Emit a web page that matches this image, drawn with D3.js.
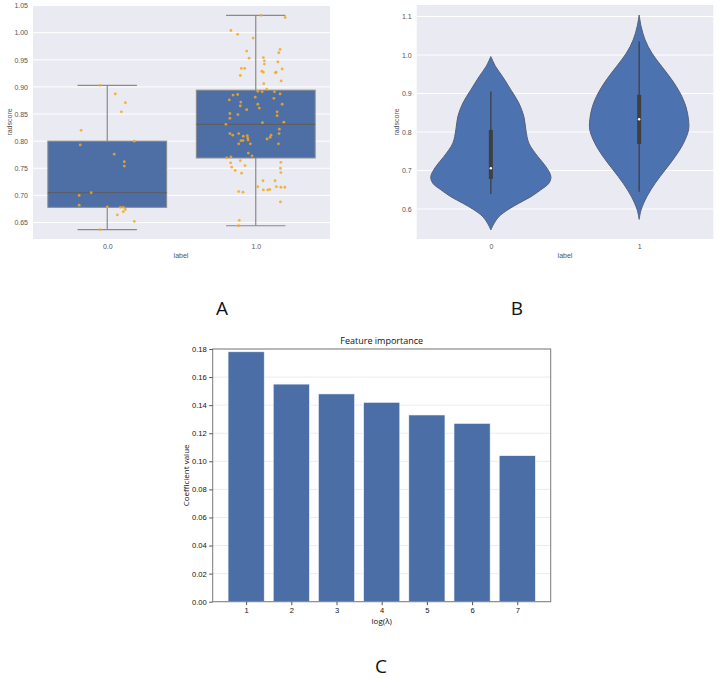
<!DOCTYPE html>
<html><head><meta charset="utf-8">
<script src="https://cdn.jsdelivr.net/npm/d3@7"></script>
<style>body{margin:0;background:#fff}svg{display:block}</style>
</head><body>
<script>
// ---------- Panel A: box + strip ----------
const boxCategories = ["0.0", "1.0"];
const boxStats = [ // [whiskerLow, Q1, median, Q3, whiskerHigh]
  [0.637, 0.678, 0.705, 0.800, 0.903],
  [0.644, 0.769, 0.831, 0.894, 1.032]
];
const strip0Values = [0.903,0.887,0.871,0.854,0.820,0.793,0.800,0.776,0.762,0.754,0.705,0.700,0.682,0.679,0.678,0.678,0.674,0.670,0.664,0.652,0.637];
const strip0Jitter = [-0.047,0.054,0.122,0.095,-0.176,-0.182,0.182,0.047,0.115,0.115,-0.108,-0.189,-0.189,0,0.088,0.108,0.122,0.108,0.068,0.182,-0.047];
const strip1Values = [1.032,1.028,1.004,0.997,0.990,0.966,0.969,0.963,0.954,0.953,0.948,0.946,0.942,0.934,0.934,0.933,0.929,0.927,0.927,0.926,0.921,0.911,0.906,0.896,0.892,0.891,0.891,0.885,0.887,0.886,0.881,0.876,0.879,0.872,0.868,0.868,0.865,0.861,0.858,0.851,0.854,0.849,0.847,0.842,0.831,0.834,0.835,0.822,0.814,0.811,0.814,0.809,0.810,0.806,0.814,0.811,0.807,0.804,0.801,0.801,0.802,0.795,0.795,0.795,0.778,0.773,0.769,0.771,0.760,0.764,0.761,0.755,0.752,0.750,0.746,0.742,0.741,0.727,0.727,0.716,0.716,0.710,0.710,0.711,0.715,0.715,0.707,0.706,0.688,0.654,0.644];
const strip1Jitter = [0.036,0.198,-0.167,-0.122,-0.018,-0.061,0.164,0.155,0.051,-0.045,0.058,0.149,0.058,-0.097,-0.074,0.178,0.041,0.051,0.137,0.132,-0.104,0.171,0.054,0.074,0.014,0.043,0.126,-0.153,0.164,-0.122,-0.003,-0.178,0.122,-0.101,0.014,0.178,-0.104,0.024,-0.061,-0.174,0.144,-0.120,0.144,-0.174,-0.201,0.045,0.189,0.159,-0.174,-0.155,-0.115,-0.084,-0.057,-0.054,0.157,0.103,0.097,0.076,-0.099,-0.086,-0.052,-0.115,-0.036,0.153,-0.050,-0.025,-0.196,-0.167,-0.169,-0.104,0.169,-0.072,-0.162,0.166,-0.138,0.169,-0.095,0.049,0.130,0.014,0.139,0.051,0.081,0.095,0.169,0.196,-0.115,-0.086,0.166,-0.111,-0.115];
const boxYTicks = [0.65,0.70,0.75,0.80,0.85,0.90,0.95,1.00,1.05];

// ---------- Panel B: violin ----------
const violinCategories = ["0", "1"];
const violin0Values = [0.996,0.970,0.944,0.9095,0.875,0.840,0.8055,0.771,0.736,0.710,0.684,0.667,0.650,0.632,0.615,0.598,0.580,0.563,0.5455];
const violin0Density = [0.0,0.08,0.195,0.333,0.467,0.55,0.583,0.633,0.783,0.917,1.0,0.967,0.833,0.667,0.467,0.283,0.133,0.055,0.0];
const violin1Values = [1.104,1.074,1.039,1.005,0.970,0.9355,0.901,0.866,0.8315,0.8055,0.771,0.736,0.7015,0.667,0.632,0.598,0.573];
const violin1Density = [0.0,0.033,0.1,0.212,0.378,0.545,0.683,0.778,0.822,0.822,0.738,0.6,0.433,0.267,0.128,0.033,0.0];
const violinStats = [ // [whiskerLow, Q1, median, Q3, whiskerHigh]
  [0.639, 0.678, 0.706, 0.8055, 0.905],
  [0.645, 0.769, 0.833, 0.8965, 1.035]
];
const violinYTicks = [0.6,0.7,0.8,0.9,1.0,1.1];

// ---------- Panel C: bars ----------
const barCategories = [1,2,3,4,5,6,7];
const barValues = [0.178,0.155,0.148,0.142,0.133,0.127,0.104];
const barYTicks = [0.00,0.02,0.04,0.06,0.08,0.10,0.12,0.14,0.16,0.18];

const W = 719, H = 679;
const svg = d3.select("body").append("svg").attr("width", W).attr("height", H);
const sansA = "'Liberation Sans', Arial, sans-serif";
const seabornBlue = "#4c72b0";
const bg = "#eaeaf2";

// ===== Panel A =====
{
  const x = d3.scaleLinear().domain([-0.5, 1.5]).range([33, 330]);
  const y = d3.scaleLinear().domain([0.6196, 1.051]).range([239, 5]);
  const g = svg.append("g");
  g.append("rect").attr("x", 33).attr("y", 5).attr("width", 297).attr("height", 234).attr("fill", bg);
  g.selectAll("line.grid").data(boxYTicks).join("line")
    .attr("x1", 33).attr("x2", 330).attr("y1", d => y(d)).attr("y2", d => y(d))
    .attr("stroke", "#fff").attr("stroke-width", 1);
  const yAxis = d3.axisLeft(y).tickValues(boxYTicks).tickFormat(d3.format(".2f")).tickSize(0).tickPadding(5);
  const ya = g.append("g").attr("transform", "translate(33,0)").call(yAxis);
  ya.select(".domain").remove();
  ya.selectAll("text").attr("font-family", sansA).attr("font-size", 7).attr("fill", "#555");
  const xAxis = d3.axisBottom(x).tickValues([0, 1]).tickFormat((d, i) => boxCategories[i]).tickSize(0).tickPadding(5);
  const xa = g.append("g").attr("transform", "translate(0,239)").call(xAxis);
  xa.select(".domain").remove();
  xa.selectAll("text").attr("font-family", sansA).attr("font-size", 7).attr("fill", "#555");
  g.append("text").attr("x", 181).attr("y", 258).attr("text-anchor", "middle")
    .attr("font-family", sansA).attr("font-size", 7).attr("fill", "#555").text("label");
  g.append("text").attr("transform", "translate(12,122) rotate(-90)").attr("text-anchor", "middle")
    .attr("font-family", sansA).attr("font-size", 7).attr("fill", "#555").text("radscore");

  boxStats.forEach((s, i) => {
    const c = i;
    const gg = g.append("g");
    gg.append("line").attr("x1", x(c)).attr("x2", x(c)).attr("y1", y(s[0])).attr("y2", y(s[1])).attr("stroke", "#8a8a8a").attr("stroke-width", 1.2);
    gg.append("line").attr("x1", x(c)).attr("x2", x(c)).attr("y1", y(s[3])).attr("y2", y(s[4])).attr("stroke", "#8a8a8a").attr("stroke-width", 1.2);
    [s[0], s[4]].forEach(v => gg.append("line").attr("x1", x(c - 0.2)).attr("x2", x(c + 0.2)).attr("y1", y(v)).attr("y2", y(v)).attr("stroke", "#8a8a8a").attr("stroke-width", 1.2));
    gg.append("rect").attr("x", x(c - 0.4)).attr("width", x(c + 0.4) - x(c - 0.4))
      .attr("y", y(s[3])).attr("height", y(s[1]) - y(s[3]))
      .attr("fill", "#4e6fa6").attr("stroke", "#8a8a8a").attr("stroke-width", 1);
    gg.append("line").attr("x1", x(c - 0.4)).attr("x2", x(c + 0.4)).attr("y1", y(s[2])).attr("y2", y(s[2])).attr("stroke", "#5a5f6a").attr("stroke-width", 1.2);
  });
  const pts = strip0Values.map((v, i) => ({c: 0 + strip0Jitter[i], v}))
    .concat(strip1Values.map((v, i) => ({c: 1 + strip1Jitter[i], v})));
  g.selectAll("circle.pt").data(pts).join("circle")
    .attr("cx", d => x(d.c)).attr("cy", d => y(d.v)).attr("r", 1.4)
    .attr("fill", "#f7a81b").attr("fill-opacity", 0.85);
}

// ===== Panel B =====
{
  const x = d3.scaleLinear().domain([-0.5, 1.5]).range([416.7, 713.3]);
  const y = d3.scaleLinear().domain([0.522, 1.130]).range([239, 5]);
  const g = svg.append("g");
  g.append("rect").attr("x", 416.7).attr("y", 5).attr("width", 296.6).attr("height", 234).attr("fill", bg);
  g.selectAll("line.grid").data(violinYTicks).join("line")
    .attr("x1", 416.7).attr("x2", 713.3).attr("y1", d => y(d)).attr("y2", d => y(d))
    .attr("stroke", "#fff").attr("stroke-width", 1);
  const yAxis = d3.axisLeft(y).tickValues(violinYTicks).tickFormat(d3.format(".1f")).tickSize(0).tickPadding(5);
  const ya = g.append("g").attr("transform", "translate(416.7,0)").call(yAxis);
  ya.select(".domain").remove();
  ya.selectAll("text").attr("font-family", sansA).attr("font-size", 7).attr("fill", "#555");
  const xAxis = d3.axisBottom(x).tickValues([0, 1]).tickFormat((d, i) => violinCategories[i]).tickSize(0).tickPadding(5);
  const xa = g.append("g").attr("transform", "translate(0,239)").call(xAxis);
  xa.select(".domain").remove();
  xa.selectAll("text").attr("font-family", sansA).attr("font-size", 7).attr("fill", "#555");
  g.append("text").attr("x", 565).attr("y", 258).attr("text-anchor", "middle")
    .attr("font-family", sansA).attr("font-size", 7).attr("fill", "#555").text("label");
  g.append("text").attr("transform", "translate(399,122) rotate(-90)").attr("text-anchor", "middle")
    .attr("font-family", sansA).attr("font-size", 7).attr("fill", "#555").text("radscore");

  const maxHalf = 0.405;
  const violins = [
    {vals: violin0Values, dens: violin0Density},
    {vals: violin1Values, dens: violin1Density}
  ];
  violins.forEach((vd, i) => {
    const data = vd.vals.map((v, k) => ({v, d: vd.dens[k]}));
    const area = d3.area().curve(d3.curveCatmullRom.alpha(0.5))
      .y(d => y(d.v)).x0(d => x(i - maxHalf * d.d)).x1(d => x(i + maxHalf * d.d));
    g.append("path").attr("d", area(data)).attr("fill", seabornBlue)
      .attr("stroke", "#55607a").attr("stroke-width", 1);
    const s = violinStats[i];
    g.append("line").attr("x1", x(i)).attr("x2", x(i)).attr("y1", y(s[0])).attr("y2", y(s[4]))
      .attr("stroke", "#3d3f45").attr("stroke-width", 1.3);
    g.append("line").attr("x1", x(i)).attr("x2", x(i)).attr("y1", y(s[1])).attr("y2", y(s[3]))
      .attr("stroke", "#3d3f45").attr("stroke-width", 4);
    g.append("circle").attr("cx", x(i)).attr("cy", y(s[2])).attr("r", 1.2).attr("fill", "#fff");
  });
}

// ===== Panel C =====
{
  const L = 212.7, R = 550.7, T = 349, B = 601.7;
  const x = d3.scaleLinear().domain([0.26, 7.74]).range([L, R]);
  const y = d3.scaleLinear().domain([0, 0.18]).range([B, T]);
  const g = svg.append("g");
  g.selectAll("line.grid").data(barYTicks).join("line")
    .attr("x1", L).attr("x2", R).attr("y1", d => y(d)).attr("y2", d => y(d))
    .attr("stroke", "#ececec").attr("stroke-width", 1);
  g.selectAll("rect.bar").data(barValues).join("rect")
    .attr("x", (d, i) => x(barCategories[i] - 0.4))
    .attr("width", (d, i) => x(barCategories[i] + 0.4) - x(barCategories[i] - 0.4))
    .attr("y", d => y(d)).attr("height", d => B - y(d))
    .attr("fill", "#4a6ea5").attr("stroke", "#f4f6fa").attr("stroke-width", 0.6);
  g.append("rect").attr("x", L).attr("y", T).attr("width", R - L).attr("height", B - T)
    .attr("fill", "none").attr("stroke", "#7a7a7a").attr("stroke-width", 1);
  const yAxis = d3.axisLeft(y).tickValues(barYTicks).tickFormat(d3.format(".2f")).tickSize(3.5).tickPadding(2.5);
  const ya = g.append("g").attr("transform", `translate(${L},0)`).call(yAxis);
  ya.select(".domain").remove();
  ya.selectAll("line").attr("stroke", "#555");
  ya.selectAll("text").attr("font-family", sansA).attr("font-size", 7.6).attr("fill", "#111");
  const xAxis = d3.axisBottom(x).tickValues(barCategories).tickFormat(d3.format("d")).tickSize(3.5).tickPadding(2.5);
  const xa = g.append("g").attr("transform", `translate(0,${B})`).call(xAxis);
  xa.select(".domain").remove();
  xa.selectAll("line").attr("stroke", "#555");
  xa.selectAll("text").attr("font-family", sansA).attr("font-size", 7.6).attr("fill", "#111");
  g.append("text").attr("x", (L + R) / 2).attr("y", 344).attr("text-anchor", "middle")
    .attr("font-family", "'Open Sans', sans-serif").attr("font-size", 9).attr("fill", "#111").text("Feature importance");
  g.append("text").attr("x", (L + R) / 2).attr("y", 624).attr("text-anchor", "middle")
    .attr("font-family", "'Open Sans', sans-serif").attr("font-size", 8).attr("fill", "#111").text("log(λ)");
  g.append("text").attr("transform", `translate(189,${(T + B) / 2}) rotate(-90)`).attr("text-anchor", "middle")
    .attr("font-family", "'Open Sans', sans-serif").attr("font-size", 8).attr("fill", "#111").text("Coefficient value");
}

// ===== Panel letters =====
const letters = [{t: "A", x: 222, y: 315}, {t: "B", x: 517, y: 315}, {t: "C", x: 381, y: 673}];
svg.selectAll("text.letter").data(letters).join("text")
  .attr("x", d => d.x).attr("y", d => d.y).attr("text-anchor", "middle")
  .attr("font-family", "'Open Sans', sans-serif").attr("font-size", 19).attr("fill", "#111")
  .text(d => d.t);
</script>
</body></html>
